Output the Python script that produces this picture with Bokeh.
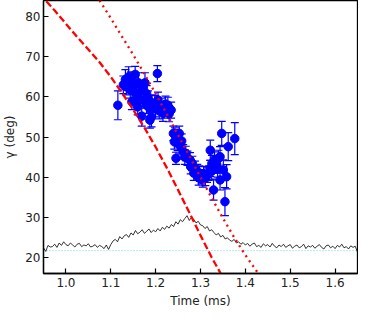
import numpy as np
from bokeh.plotting import figure
from bokeh.models import ColumnDataSource, Whisker, TeeHead, Range1d, FixedTicker
from bokeh.embed import file_html
from bokeh.resources import INLINE

# ---- measured points (time in ms, gamma in deg, symmetric error) ----
pt_time = [1.1158, 1.1326, 1.1398, 1.1544, 1.1347, 1.1435, 1.1508, 1.1617, 1.1762, 1.1726,
           1.1580, 1.1471, 1.1653, 1.1799, 1.1690, 1.1799, 1.1871, 1.1908, 1.1981, 1.2053,
           1.2126, 1.2199, 1.2272, 1.2345, 1.2039, 1.2163, 1.1871,
           1.128, 1.145, 1.155, 1.160, 1.168, 1.183, 1.192, 1.200, 1.208, 1.222, 1.230,
           1.2395, 1.2454, 1.2417, 1.2526, 1.2490, 1.2454, 1.2563, 1.2614, 1.2672, 1.2709,
           1.2767, 1.2818, 1.2781, 1.2876, 1.2927, 1.2978, 1.3021, 1.3051, 1.3109, 1.3145,
           1.3181, 1.243, 1.258, 1.265, 1.285, 1.296, 1.307,
           1.3218, 1.3254, 1.3218, 1.3313, 1.3363, 1.3400, 1.3436, 1.3473, 1.3509, 1.3436,
           1.3582, 1.3291, 1.3545, 1.3618, 1.3764, 1.325, 1.338]
pt_gamma = [57.9, 64.3, 65.0, 65.6, 62.5, 61.7, 62.9, 63.5, 63.5, 62.1,
            60.4, 58.8, 59.2, 60.8, 55.2, 57.9, 57.1, 55.0, 58.3, 59.2,
            57.7, 56.7, 57.9, 56.7, 65.8, 55.9, 54.2,
            63.0, 64.0, 61.0, 57.5, 61.5, 59.5, 58.5, 57.0, 56.5, 58.2, 55.8,
            50.9, 50.1, 48.8, 50.9, 48.4, 44.7, 47.6, 46.3, 45.9, 44.7,
            44.3, 43.4, 42.6, 42.2, 41.4, 41.0, 40.1, 39.3, 39.7, 40.5,
            41.0, 50.5, 49.0, 45.0, 41.0, 39.8, 40.8,
            42.2, 43.4, 46.7, 44.3, 43.0, 44.7, 45.1, 50.9, 41.8, 39.3,
            40.1, 36.8, 33.9, 47.6, 49.6, 41.5, 42.0]
pt_err = [3.6, 2.5, 2.5, 2.0, 2.0, 2.0, 2.0, 2.5, 2.5, 2.0,
          2.0, 2.0, 2.0, 2.0, 2.5, 2.0, 2.0, 2.5, 2.0, 2.0,
          2.0, 2.0, 2.0, 2.0, 2.0, 2.0, 2.0,
          2.2, 2.2, 2.0, 2.0, 2.0, 2.0, 2.0, 2.0, 2.0, 2.0, 2.0,
          1.8, 1.8, 1.8, 1.8, 1.8, 1.5, 1.8, 1.8, 1.8, 1.8,
          1.8, 1.8, 1.8, 1.8, 1.8, 1.8, 1.8, 1.8, 1.8, 1.8,
          1.8, 1.8, 1.8, 1.8, 1.8, 1.8, 1.8,
          2.0, 2.0, 2.5, 2.0, 2.0, 2.0, 2.5, 3.0, 2.5, 2.5,
          3.0, 2.5, 3.5, 3.5, 4.0, 2.0, 2.0]

# ---- dashed model curve ----
dash_time = [0.94, 0.95, 0.975, 1.00, 1.025, 1.05, 1.075, 1.10, 1.125, 1.15, 1.175,
             1.20, 1.225, 1.25, 1.275, 1.30, 1.325, 1.35, 1.36]
dash_gamma = [85.5, 84.6, 81.5, 78.2, 74.9, 71.8, 68.6, 65.0, 61.0, 56.8, 52.3,
              47.5, 42.3, 36.8, 31.2, 25.5, 20.0, 15.0, 13.0]

# ---- dotted model curve ----
dot_time = [1.06, 1.075, 1.10, 1.125, 1.15, 1.175, 1.20, 1.225, 1.25, 1.275, 1.30,
            1.325, 1.35, 1.375, 1.40, 1.425, 1.44]
dot_gamma = [86.5, 84.0, 79.6, 75.0, 70.5, 65.7, 60.8, 55.7, 50.5, 45.3, 40.0,
             34.8, 29.8, 25.0, 20.6, 16.6, 14.5]

# ---- black trace (0.95 .. 1.65 ms, every 0.005 ms) ----
trace_gamma = [22.4, 21.5, 23.0, 22.6, 22.7, 23.3, 22.5, 23.6, 23.0, 23.9,
               23.2, 22.9, 23.6, 23.1, 22.6, 23.3, 23.5, 22.7, 23.1, 22.9,
               23.4, 22.6, 22.8, 23.2, 22.5, 23.0, 22.7, 22.2, 23.1, 22.0,
               23.2, 24.1, 24.5, 23.9, 25.2, 24.6, 25.4, 25.7, 25.0, 26.1,
               25.6, 26.7, 25.9, 26.3, 26.9, 26.0, 26.5, 27.1, 26.2, 26.8,
               26.4, 27.2, 26.6, 27.5, 27.0, 27.8, 27.3, 28.2, 27.7, 28.9,
               28.3, 29.4, 28.9, 29.7, 30.4, 29.2, 30.0, 29.5, 28.6, 29.0,
               28.1, 27.9, 27.2, 27.7, 26.6, 26.9, 26.2, 25.6, 26.0, 25.1,
               25.5, 24.6, 24.9, 24.3, 24.0, 24.5, 23.6, 23.9, 23.3, 23.7,
               23.1, 23.5, 22.8, 23.3, 23.6, 22.7, 23.0, 22.5, 23.4, 22.9,
               23.2, 22.6, 23.5, 22.8, 22.4, 23.1, 22.7, 23.3, 22.5, 22.9,
               23.2, 22.3, 22.8, 23.1, 22.4, 22.7, 23.3, 22.2, 22.9, 22.6,
               23.0, 22.3, 22.8, 23.2, 22.5, 22.1, 22.9, 23.1, 22.4, 22.8,
               22.2, 23.0, 22.6, 23.3, 22.4, 22.7, 22.1, 22.9, 22.5, 22.8,
               21.3]
trace_time = [round(0.95 + 0.005 * i, 4) for i in range(len(trace_gamma))]

# ---- horizontal reference level ----
ref_level = 21.7

x_ticks = [1.0, 1.1, 1.2, 1.3, 1.4, 1.5, 1.6]
y_ticks = [20, 30, 40, 50, 60, 70, 80]

p = figure(width=358, height=314, output_backend="svg", toolbar_location=None,
           x_range=Range1d(0.95, 1.65), y_range=Range1d(16, 84),
           min_border_left=37, min_border_right=1, min_border_top=0, min_border_bottom=41)
p.xgrid.visible = False
p.ygrid.visible = False
p.outline_line_color = "black"
p.outline_line_width = 1.3
p.background_fill_color = "white"
p.border_fill_color = "white"

for ax in (p.xaxis[0], p.yaxis[0]):
    ax.axis_line_width = 1.3
    ax.major_tick_in = 5
    ax.major_tick_out = 0
    ax.minor_tick_in = 0
    ax.minor_tick_out = 0
    ax.major_tick_line_width = 1.2
    ax.major_label_text_font = "DejaVu Sans"
    ax.major_label_text_font_size = "12px"
    ax.major_label_text_color = "#222222"
    ax.axis_label_text_font = "DejaVu Sans"
    ax.axis_label_text_font_size = "12px"
    ax.axis_label_text_font_style = "normal"
    ax.axis_label_text_color = "#222222"

p.xaxis.ticker = FixedTicker(ticks=x_ticks)
p.yaxis.ticker = FixedTicker(ticks=y_ticks)
p.xaxis.major_label_overrides = {v: f"{v:.1f}" for v in x_ticks}
p.xaxis.axis_label = "Time (ms)"
p.yaxis.axis_label = "γ (deg)"
p.xaxis.major_label_standoff = 4
p.yaxis.major_label_standoff = 3
p.xaxis.axis_label_standoff = 4
p.yaxis.axis_label_standoff = 5

# cyan reference line
p.line([0.95, 1.65], [ref_level, ref_level], line_color="#3fcfcf", line_width=0.8,
       line_dash="1 2")

# black trace
p.line(trace_time, trace_gamma, line_color="black", line_width=0.8)

# points with error bars
src = ColumnDataSource(dict(t=pt_time, g=pt_gamma,
                            lo=[g - e for g, e in zip(pt_gamma, pt_err)],
                            hi=[g + e for g, e in zip(pt_gamma, pt_err)]))
wh = Whisker(source=src, base="t", lower="lo", upper="hi", line_color="blue", line_width=1.2,
             upper_head=TeeHead(size=8, line_color="blue", line_width=1.2),
             lower_head=TeeHead(size=8, line_color="blue", line_width=1.2))
p.add_layout(wh)
p.scatter("t", "g", source=src, size=8.5, color="blue", line_color="blue")

# model curves
p.line(dash_time, dash_gamma, line_color="red", line_width=2.3, line_dash="7 3")
p.line(dot_time, dot_gamma, line_color="red", line_width=2.3, line_dash="2 4")

open("out.html", "w").write(file_html(p, INLINE))
